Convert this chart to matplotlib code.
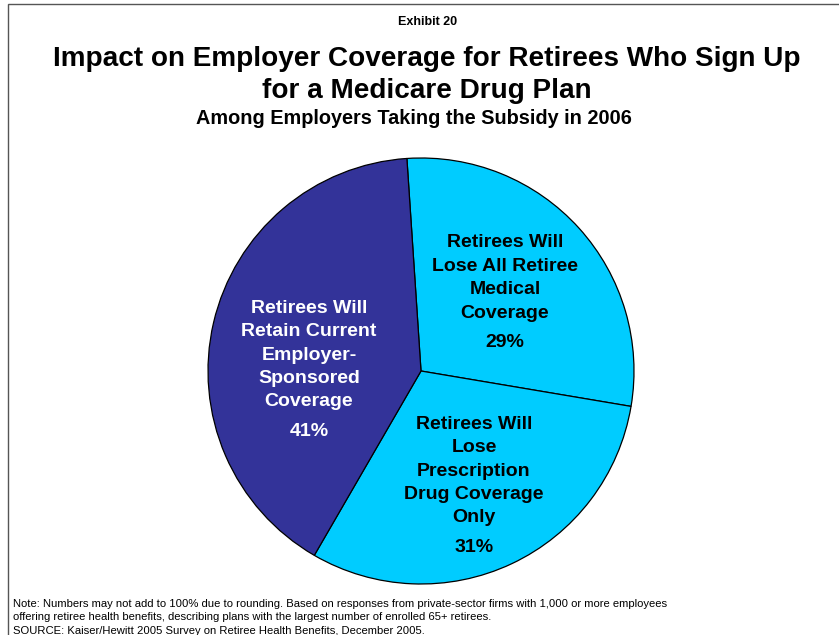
import matplotlib
matplotlib.use("Agg")
import matplotlib.pyplot as plt
from matplotlib.patches import Rectangle

plt.rcParams["font.family"] = ["Liberation Sans", "DejaVu Sans"]

# slice data, clockwise from the top
labels = [
    "Retirees Will\nLose All Retiree\nMedical\nCoverage",
    "Retirees Will\nLose\nPrescription\nDrug Coverage\nOnly",
    "Retirees Will\nRetain Current\nEmployer-\nSponsored\nCoverage",
]
values = [29, 31, 41]
colors = ["#00CCFF", "#00CCFF", "#333399"]
text_colors = ["black", "black", "white"]
# label placement in pixels: (x centre, y of text block centre, y of percent)
label_px = [(505, 278, 343), (474, 471, 548), (309, 355, 432)]

W, H = 839, 635
fig = plt.figure(figsize=(W / 100, H / 100), dpi=100)

# outer frame (runs off the right and bottom edges)
fig.patches.append(Rectangle((8 / W, -0.1), 1.2, 1.1 - 4 / H,
                             transform=fig.transFigure, fill=False,
                             edgecolor="#555555", linewidth=1.0))

cx, cy, r = 421, 371, 213
ax = fig.add_axes([(cx - r) / W, (H - cy - r) / H, 2 * r / W, 2 * r / H])
wedges, _ = ax.pie(values, colors=colors, startangle=93.8, counterclock=False,
                   radius=1.0,
                   wedgeprops=dict(edgecolor="black", linewidth=0.9))
ax.set_xlim(-1, 1)
ax.set_ylim(-1, 1)
ax.axis("off")

for lab, val, tc, (px, py, ppy) in zip(labels, values, text_colors, label_px):
    fig.text(px / W, 1 - py / H, lab, ha="center", va="center", color=tc,
             fontsize=14, fontweight="bold", linespacing=1.49)
    fig.text(px / W, 1 - ppy / H, f"{val}%", ha="center", va="center",
             color=tc, fontsize=14, fontweight="bold")

fig.text(428 / W, 1 - 22 / H, "Exhibit 20", ha="center", va="center",
         fontsize=9, fontweight="bold")
fig.text(427 / W, 1 - 75 / H,
         "Impact on Employer Coverage for Retirees Who Sign Up\nfor a Medicare Drug Plan",
         ha="center", va="center", fontsize=20.1, fontweight="bold", linespacing=1.28)
fig.text(414 / W, 1 - 118 / H, "Among Employers Taking the Subsidy in 2006",
         ha="center", va="center", fontsize=14.3, fontweight="bold")

fig.text(13 / W, 1 - 599 / H,
         "Note: Numbers may not add to 100% due to rounding. Based on responses from private-sector firms with 1,000 or more employees\n"
         "offering retiree health benefits, describing plans with the largest number of enrolled 65+ retirees.\n"
         "SOURCE: Kaiser/Hewitt 2005 Survey on Retiree Health Benefits, December 2005.",
         ha="left", va="top", fontsize=8.1, linespacing=1.42)

fig.savefig("out.png", dpi=100)
